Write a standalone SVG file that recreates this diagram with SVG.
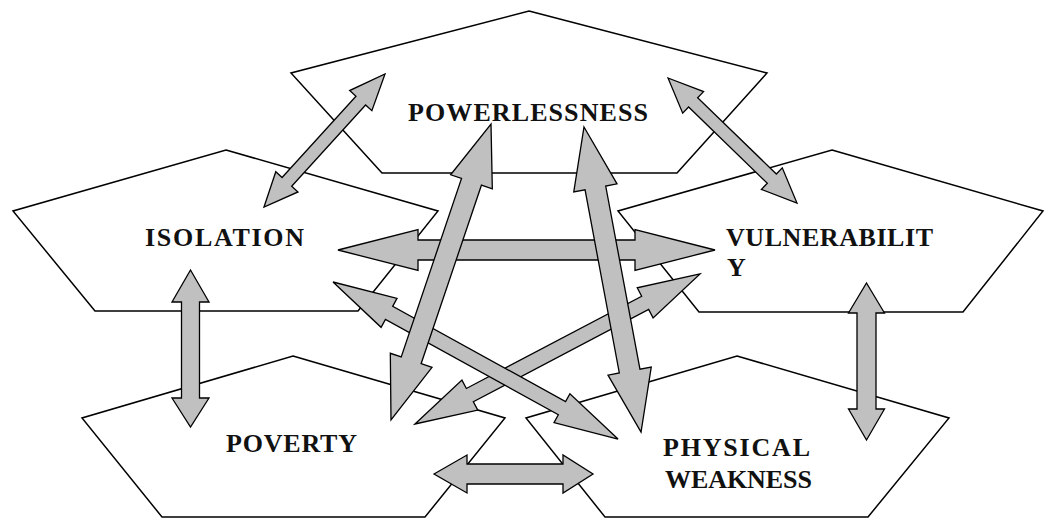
<svg xmlns="http://www.w3.org/2000/svg" width="1050" height="519" viewBox="0 0 1050 519">
  <style>
    .box { fill: #ffffff; stroke: #000000; stroke-width: 1.5; stroke-linejoin: miter; }
    .arrow { fill: #c0c0c0; stroke: #000000; stroke-width: 1.3; stroke-linejoin: miter; }
    .label { font-family: "Liberation Serif", "Times New Roman", serif; font-weight: bold; font-size: 26px; fill: #111111; }
  </style>
  <rect width="1050" height="519" fill="#ffffff"/>

  <!-- pentagon nodes -->
  <g id="powerlessness">
    <polygon class="box" points="529,11 767,73 677,173 382,173 291,73"/>
    <text class="label" x="408" y="121" textLength="240" lengthAdjust="spacing">POWERLESSNESS</text>
  </g>
  <g id="isolation">
    <polygon class="box" points="226,150 438,211 358,311 95,311 13,211"/>
    <text class="label" x="145" y="246" textLength="159" lengthAdjust="spacing">ISOLATION</text>
  </g>
  <g id="vulnerability">
    <polygon class="box" points="832,150 1043,211 963,312 699,312 618,211"/>
    <text class="label" x="726" y="246" textLength="207" lengthAdjust="spacing">VULNERABILIT</text>
    <text class="label" x="727" y="276">Y</text>
  </g>
  <g id="poverty">
    <polygon class="box" points="293,356 505,418 425,517 162,517 82,418"/>
    <text class="label" x="226" y="452" textLength="131" lengthAdjust="spacing">POVERTY</text>
  </g>
  <g id="physical-weakness">
    <polygon class="box" points="737,356 949,418 868,517 605,517 526,418"/>
    <text class="label" x="663" y="456" textLength="147" lengthAdjust="spacing">PHYSICAL</text>
    <text class="label" x="665" y="488" textLength="147" lengthAdjust="spacing">WEAKNESS</text>
  </g>

  <!-- double-headed block arrows between the nodes -->
  <g id="connectors">
    <!-- isolation <-> powerlessness -->
    <polygon class="arrow" transform="translate(264,207) rotate(-47.7)" points="0,0 34,-15 34,-6.5 143.8,-6.5 143.8,-15 179.8,0 143.8,15 143.8,6.5 34,6.5 34,15"/>
    <!-- powerlessness <-> vulnerability -->
    <polygon class="arrow" transform="translate(668,78) rotate(44.1)" points="0,0 35,-15 35,-6.5 144.6,-6.5 144.6,-15 179.6,0 144.6,15 144.6,6.5 35,6.5 35,15"/>
    <!-- isolation <-> poverty -->
    <polygon class="arrow" points="190.5,270 209,302 199.5,302 199.5,398 209,398 190.5,427 172,398 181.5,398 181.5,302 172,302"/>
    <!-- vulnerability <-> physical weakness -->
    <polygon class="arrow" points="866.5,283 884.5,313 876,313 876,409 884.5,409 866.5,440 848.5,409 857,409 857,313 848.5,313"/>
    <!-- poverty <-> physical weakness -->
    <polygon class="arrow" points="434,474 467,455 467,464 563,464 563,455 593,474 563,493 563,484 467,484 467,493"/>
    <!-- isolation <-> vulnerability -->
    <polygon class="arrow" points="338,250 418,229.5 418,240 635,240 635,229.5 715,250 635,270.5 635,260 418,260 418,270.5"/>
    <!-- poverty <-> vulnerability -->
    <polygon class="arrow" transform="translate(415,424) rotate(-27.76)" points="0,0 62,-17 62,-7.5 260.1,-7.5 260.1,-17 322.1,0 260.1,17 260.1,7.5 62,7.5 62,17"/>
    <!-- isolation <-> physical weakness -->
    <polygon class="arrow" transform="translate(333,282) rotate(28.85)" points="0,0 64,-16.5 64,-7.5 261.4,-7.5 261.4,-16.5 325.4,0 261.4,16.5 261.4,7.5 64,7.5 64,16.5"/>
    <!-- poverty <-> powerlessness -->
    <polygon class="arrow" transform="translate(391,420) rotate(-71.33)" points="0,0 63,-22 63,-10.5 251.4,-10.5 251.4,-22 312.4,0 251.4,22 251.4,10.5 63,10.5 63,22"/>
    <!-- powerlessness <-> physical weakness -->
    <polygon class="arrow" transform="translate(584,127) rotate(79.41)" points="0,0 62,-22 62,-10.5 248.3,-10.5 248.3,-22 310.3,0 248.3,22 248.3,10.5 62,10.5 62,22"/>
  </g>
</svg>
